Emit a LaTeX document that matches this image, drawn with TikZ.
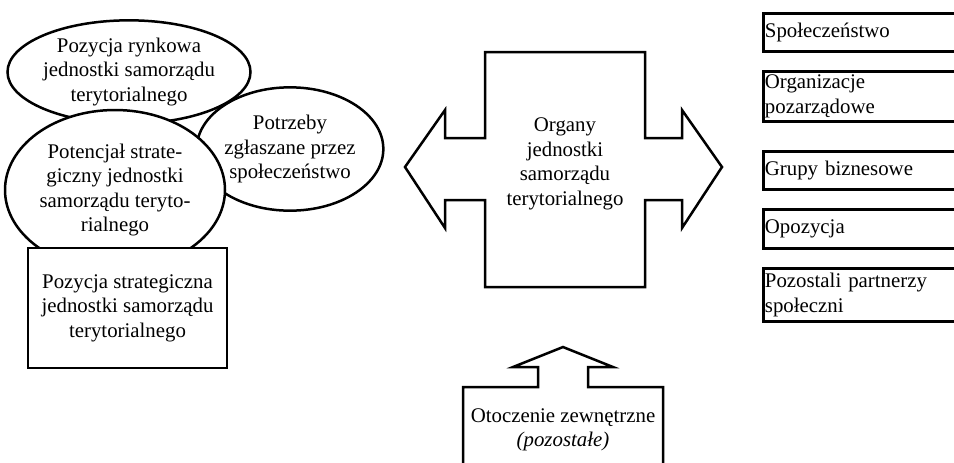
\documentclass[tikz,border=0pt]{standalone}
\usepackage{fontspec}
\setmainfont{Liberation Serif}
\usetikzlibrary{shapes.geometric}

\begin{document}
\begin{tikzpicture}[
  x=0.6pt,y=-0.6pt,
  line width=1.5pt,
  font=\fontsize{12.5}{14.7}\selectfont,
  oval/.style={ellipse,draw,fill=white,align=center,inner sep=0pt},
  box/.style={rectangle,draw,fill=white,align=center,inner sep=0pt},
  side/.style={rectangle,draw,fill=white,anchor=north west,align=left,text width=117pt,inner xsep=1pt,inner ysep=0pt},
  blockarrow/.style={draw,fill=white,line join=miter}
]
\useasboundingbox (0,0) rectangle (954,462);
\clip (0,0) rectangle (954,462);

% left group
\node[oval,minimum width=112pt,minimum height=74pt] (potrzeby) at (290,149) {Potrzeby\\zgłaszane przez\\społeczeństwo};
\node[oval,minimum width=143.4pt,minimum height=62pt] (rynkowa) at (129,72) {Pozycja rynkowa\\jednostki samorządu\\terytorialnego};
\node[oval,minimum width=132pt,minimum height=96pt] (potencjal) at (115,190) {Potencjał strate-\\giczny jednostki\\samorządu teryto-\\rialnego};
\node[box,minimum width=119.4pt,minimum height=72pt] (pozycja) at (127.5,308) {Pozycja strategiczna\\jednostki samorządu\\terytorialnego};

% centre
\draw[blockarrow] (485,52) -- (645,52) -- (645,138) -- (682,138) -- (682,110) -- (722,167)
  -- (682,228) -- (682,200) -- (645,200) -- (645,287) -- (485,287) -- (485,200)
  -- (445,200) -- (445,228) -- (405,167) -- (445,110) -- (445,138) -- (485,138) -- cycle;
\node[align=center] (organy) at (565,164) {Organy\\jednostki\\samorządu\\terytorialnego};

\draw[blockarrow] (563,347) -- (613,367) -- (588,367) -- (588,387) -- (663,387) -- (663,480)
  -- (463,480) -- (463,387) -- (538,387) -- (538,367) -- (513,367) -- cycle;
\node[align=center] (otoczenie) at (563,430) {Otoczenie zewnętrzne\\\textit{(pozostałe)}};

% partners
\node[side,minimum height=22.8pt] (spol) at (762,12) {Społeczeństwo};
\node[side,minimum height=30pt] (org) at (762,70) {Organizacje\\pozarządowe};
\node[side,minimum height=22.8pt] (grupy) at (762,150) {Grupy biznesowe};
\node[side,minimum height=23.4pt] (opoz) at (762,208) {Opozycja};
\node[side,minimum height=31.8pt] (partnerzy) at (762,267) {Pozostali partnerzy\\społeczni};
\end{tikzpicture}
\end{document}
